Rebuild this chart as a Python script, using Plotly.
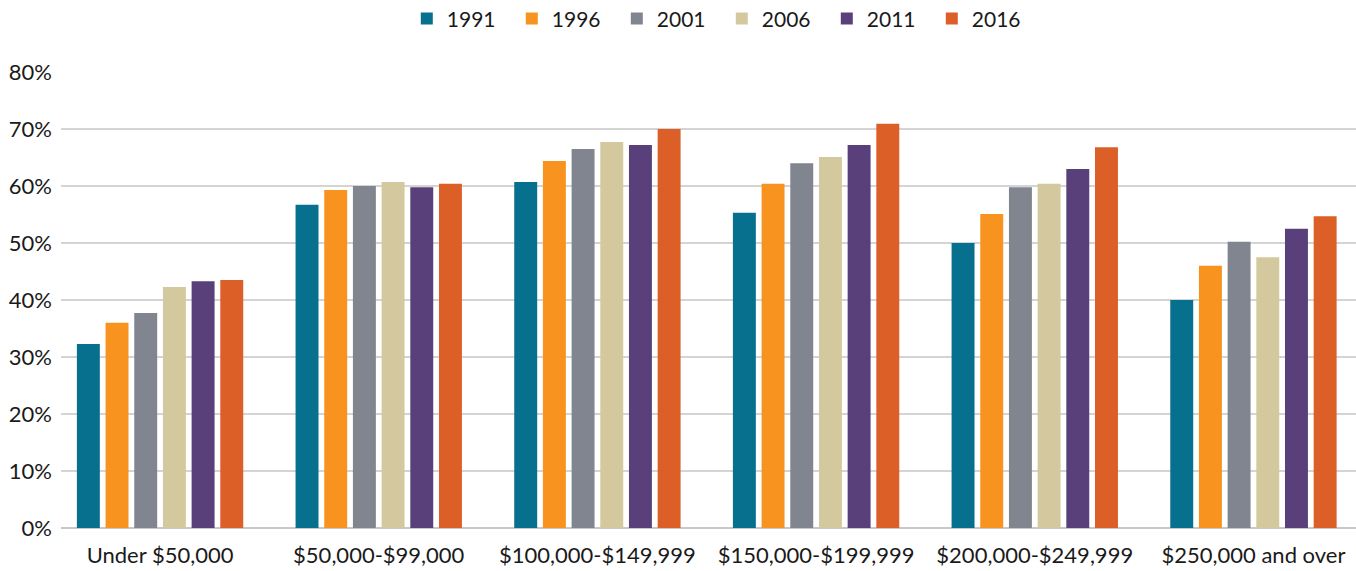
import plotly.graph_objects as go

categories = ["Under $50,000", "$50,000-$99,000", "$100,000-$149,999",
              "$150,000-$199,999", "$200,000-$249,999", "$250,000 and over"]
years = ["1991", "1996", "2001", "2006", "2011", "2016"]
v1991 = [32.3, 56.7, 60.7, 55.3, 50.0, 40.0]
v1996 = [36.0, 59.3, 64.4, 60.4, 55.1, 46.0]
v2001 = [37.7, 60.0, 66.5, 64.0, 59.8, 50.2]
v2006 = [42.3, 60.7, 67.7, 65.1, 60.4, 47.5]
v2011 = [43.3, 59.8, 67.2, 67.2, 63.0, 52.5]
v2016 = [43.5, 60.4, 70.0, 70.9, 66.8, 54.7]
series = [v1991, v1996, v2001, v2006, v2011, v2016]
colors = ["#08708f", "#f7931e", "#80858f", "#d4c99e", "#5a407a", "#dc5f27"]

fig = go.Figure()
for y, vals, c in zip(years, series, colors):
    fig.add_trace(go.Bar(name=y, x=categories, y=vals, marker_color=c,
                         marker_line_width=0))

fig.update_layout(
    width=1356, height=571,
    barmode="group", bargap=0.213, bargroupgap=0.2,
    plot_bgcolor="white", paper_bgcolor="white",
    font=dict(family="Lato, sans-serif", size=22, color="#1a1a1a"),
    margin=dict(l=61, r=0, t=72, b=43, autoexpand=False),
    legend=dict(orientation="h", x=0.300, xanchor="left", xref="container",
                y=0.967, yanchor="middle", yref="container",
                entrywidth=60, itemwidth=30,
                font=dict(size=21), traceorder="normal"),
    xaxis=dict(range=[-0.453, 5.469], showgrid=False, ticks="",
               showline=False, tickfont=dict(size=22), ticklabelstandoff=12),
    yaxis=dict(range=[0, 80], dtick=10, ticksuffix="%", showgrid=True,
               gridcolor="#d4d4d4", gridwidth=2, zeroline=True,
               zerolinecolor="#c8c8c8", zerolinewidth=2, ticks="",
               tickfont=dict(size=22), ticklabelstandoff=8),
)
fig.write_html("out.html", config={"displayModeBar": False},
               post_script="document.body.style.margin='0';document.body.style.overflow='hidden';")
